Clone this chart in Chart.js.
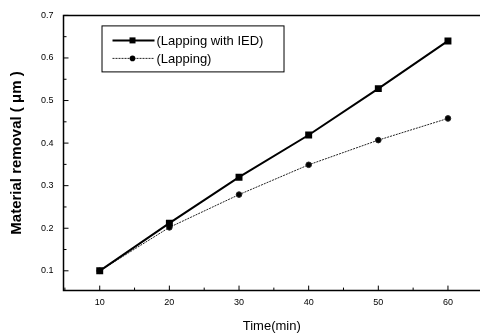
<!DOCTYPE html>
<html>
<head>
<meta charset="utf-8">
<script src="https://cdn.jsdelivr.net/npm/chart.js@4"></script>
<style>
  body { margin: 0; background: #fff; }
  #chart { display: block; }
</style>
</head>
<body>
<canvas id="chart" width="480" height="335"></canvas>
<script>
// data
const times = [10, 20, 30, 40, 50, 60];
const lappingIED = [0.10, 0.212, 0.32, 0.419, 0.528, 0.64];
const lapping = [0.10, 0.202, 0.279, 0.349, 0.407, 0.458];
const xTickValues = [10, 20, 30, 40, 50, 60];
const yTickValues = [0.1, 0.2, 0.3, 0.4, 0.5, 0.6, 0.7];

const FONT = "'Liberation Sans', Arial, sans-serif";

// frame + inward ticks, like the original plot
const framePlugin = {
  id: "frame",
  afterDraw(chart) {
    const { ctx, chartArea: a, scales: { x, y } } = chart;
    ctx.save();
    ctx.strokeStyle = "#000";
    ctx.lineWidth = 1.5;
    ctx.beginPath();
    ctx.moveTo(a.right, a.top);
    ctx.lineTo(a.left, a.top);
    ctx.lineTo(a.left, a.bottom);
    ctx.lineTo(a.right, a.bottom);
    ctx.stroke();

    ctx.lineWidth = 1;
    ctx.beginPath();
    yTickValues.forEach((v, i) => {
      const py = y.getPixelForValue(v);
      ctx.moveTo(a.left, py);
      ctx.lineTo(a.left + 5, py);
      if (i > 0) {
        const my = y.getPixelForValue(v - 0.05);
        ctx.moveTo(a.left, my);
        ctx.lineTo(a.left + 3, my);
      }
    });
    xTickValues.forEach(v => {
      const px = x.getPixelForValue(v);
      ctx.moveTo(px, a.bottom);
      ctx.lineTo(px, a.bottom - 5);
      const mx = x.getPixelForValue(v - 5);
      ctx.moveTo(mx, a.bottom);
      ctx.lineTo(mx, a.bottom - 3);
    });
    ctx.stroke();
    ctx.restore();
  }
};

// boxed legend with line + marker samples
const legendPlugin = {
  id: "boxLegend",
  afterDraw(chart) {
    const { ctx, chartArea: a } = chart;
    const bx = a.left + 38, by = a.top + 10, bw = 182, bh = 46;
    ctx.save();
    ctx.strokeStyle = "#000";
    ctx.lineWidth = 1;
    ctx.strokeRect(bx + 0.5, by + 0.5, bw, bh);
    chart.data.datasets.forEach((ds, i) => {
      const ly = by + 15 + i * 18;
      ctx.strokeStyle = ds.borderColor;
      ctx.lineWidth = ds.borderWidth;
      ctx.setLineDash(ds.borderDash || []);
      ctx.beginPath();
      ctx.moveTo(bx + 11, ly);
      ctx.lineTo(bx + 53, ly);
      ctx.stroke();
      ctx.setLineDash([]);
      ctx.fillStyle = "#000";
      if (ds.pointStyle === "rect") {
        ctx.fillRect(bx + 28, ly - 3, 6, 6);
      } else {
        ctx.beginPath();
        ctx.arc(bx + 31, ly, 2.8, 0, Math.PI * 2);
        ctx.fill();
      }
      ctx.font = "13px " + FONT;
      ctx.textBaseline = "middle";
      ctx.fillText(ds.label, bx + 55, ly + 1);
    });
    ctx.restore();
  }
};

new Chart(document.getElementById("chart"), {
  type: "line",
  data: {
    datasets: [
      {
        label: "(Lapping with IED)",
        data: times.map((t, i) => ({ x: t, y: lappingIED[i] })),
        borderColor: "#000",
        backgroundColor: "#000",
        borderWidth: 2,
        pointStyle: "rect",
        pointRadius: 3.5,
        tension: 0
      },
      {
        label: "(Lapping)",
        data: times.map((t, i) => ({ x: t, y: lapping[i] })),
        borderColor: "#222",
        backgroundColor: "#000",
        borderWidth: 1,
        borderDash: [2, 1],
        pointStyle: "circle",
        pointRadius: 2.8,
        tension: 0
      }
    ]
  },
  options: {
    responsive: false,
    animation: false,
    layout: { autoPadding: false, padding: { top: 10, right: 0, left: 8, bottom: 1 } },
    plugins: {
      legend: { display: false },
      tooltip: { enabled: false }
    },
    scales: {
      x: {
        type: "linear",
        min: 4.8,
        max: 64.6,
        afterBuildTicks: s => { s.ticks = xTickValues.map(v => ({ value: v })); },
        grid: { display: false, drawTicks: false },
        border: { display: false },
        ticks: {
          color: "#000",
          font: { family: FONT, size: 9 },
          padding: 7,
          maxRotation: 0
        },
        title: {
          display: true,
          text: "Time(min)",
          color: "#000",
          font: { family: FONT, size: 13 },
          padding: { top: 3, bottom: 0 }
        }
      },
      y: {
        min: 0.0535,
        max: 0.7,
        afterBuildTicks: s => { s.ticks = yTickValues.map(v => ({ value: v })); },
        grid: { display: false, drawTicks: false },
        border: { display: false },
        ticks: {
          color: "#000",
          font: { family: FONT, size: 9 },
          padding: 10,
          callback: v => v.toFixed(1)
        },
        title: {
          display: true,
          text: "Material removal ( μm )",
          color: "#000",
          font: { family: FONT, size: 15, weight: "bold" },
          padding: { top: 0, bottom: 5 }
        }
      }
    }
  },
  plugins: [framePlugin, legendPlugin]
});
</script>
</body>
</html>
